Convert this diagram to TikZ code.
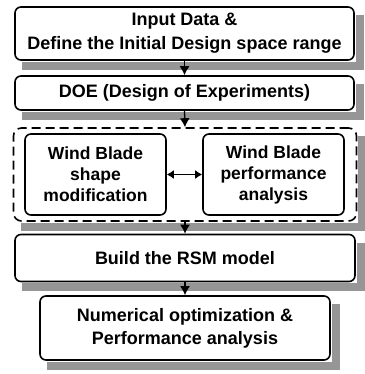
\documentclass[tikz,border=0pt]{standalone}
\usepackage{fontspec}
\setmainfont{Liberation Sans}
\usetikzlibrary{arrows.meta}
\definecolor{shadowgray}{RGB}{150,150,150}
\begin{document}
\begin{tikzpicture}[x=1pt,y=1pt,
  shadowline/.style={draw=shadowgray,line width=8pt,line cap=butt,line join=miter},
  box/.style={draw,line width=1.6pt,rounded corners=6pt,fill=white,align=center,
    inner sep=0pt,font=\bfseries\fontsize{18}{24}\selectfont},
  ibox/.style={box,font=\bfseries\fontsize{17.5}{21}\selectfont},
  arr/.style={line width=1.3pt,-{Latex[width=10pt,length=9pt]}},
  darr/.style={line width=1.3pt,{Latex[width=9pt,length=7pt]}-{Latex[width=9pt,length=7pt]}}]
\useasboundingbox (0,0) rectangle (364,-374);
% boxes
\node[box,minimum width=339pt,minimum height=53pt] (b1) at (184.5,-33.5) {Input Data \&\\Define the Initial Design space range};
\node[box,minimum width=339pt,minimum height=34pt] (b2) at (184.5,-93) {DOE (Design of Experiments)};
\node[draw,dash pattern=on 9pt off 5pt,line width=1.6pt,rounded corners=8pt,fill=white,
  minimum width=343pt,minimum height=93pt] (grp) at (185,-174.5) {};
\node[ibox,minimum width=141pt,minimum height=81pt] (L) at (95.5,-174.5) {Wind Blade\\shape\\modification};
\node[ibox,minimum width=141pt,minimum height=81pt] (R) at (273.5,-174.5) {Wind Blade\\performance\\analysis};
\node[box,minimum width=340pt,minimum height=47pt] (b3) at (185,-258) {Build the RSM model};
\node[box,font=\bfseries\fontsize{18}{23}\selectfont,minimum width=290pt,minimum height=64pt] (b4) at (185,-328) {Numerical optimization \&\\Performance analysis};
% shadows (right and bottom strips)
\foreach \n in {b1,b2,grp,b3,b4}
  \draw[shadowline] ([shift={(5,-9)}]\n.north east) |- ([shift={(8,-5)}]\n.south west);
\draw[arr] (b1.south) -- (b2.north);
\draw[arr] (b2.south) -- (grp.north);
\draw[arr] (grp.south) -- (b3.north);
\draw[arr] (b3.south) -- (b4.north);
\draw[darr] (L.east) -- (R.west);
\end{tikzpicture}
\end{document}
